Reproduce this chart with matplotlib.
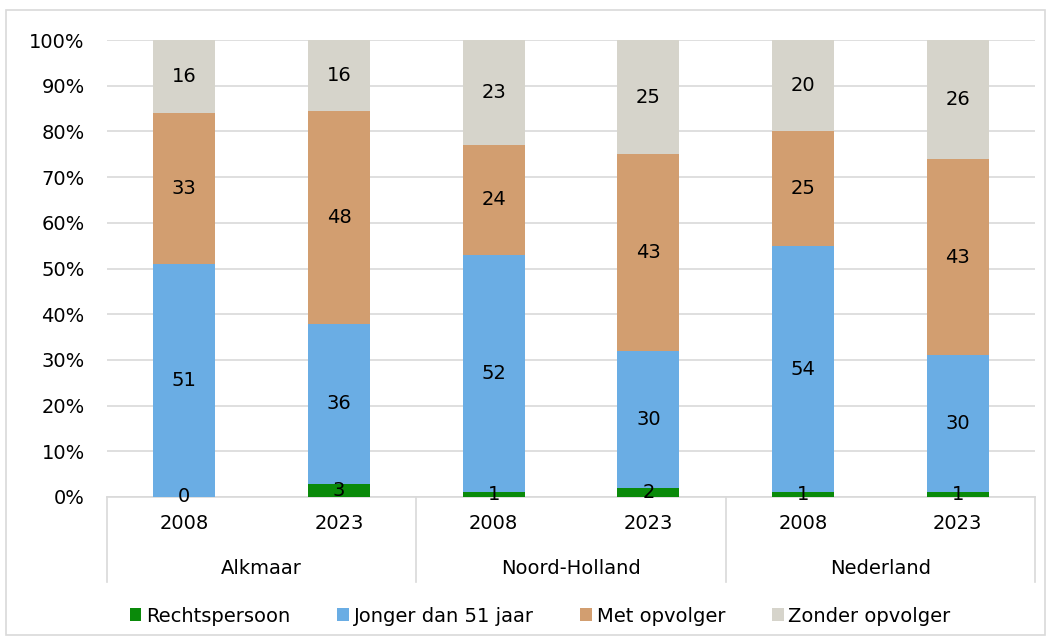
import matplotlib.pyplot as plt
import matplotlib.transforms as mtransforms
from matplotlib.patches import Rectangle
import numpy as np

# data
groups = ["Alkmaar", "Noord-Holland", "Nederland"]
years = ["2008", "2023", "2008", "2023", "2008", "2023"]
series = ["Rechtspersoon", "Jonger dan 51 jaar", "Met opvolger", "Zonder opvolger"]
rechtspersoon = [0, 3, 1, 2, 1, 1]
jonger = [51, 36, 52, 30, 54, 30]
met_opvolger = [33, 48, 24, 43, 25, 43]
zonder_opvolger = [16, 16, 23, 25, 20, 26]
colors = ["#0A8A0A", "#6AADE4", "#D29E70", "#D6D4CB"]

plt.rcParams["font.family"] = ["DejaVu Sans"]
fs = 14

fig = plt.figure(figsize=(10.53, 6.44), dpi=100)
ax = fig.add_axes([107 / 1053, 1 - 497 / 644, 928 / 1053, 457 / 644])

vals = np.array([rechtspersoon, jonger, met_opvolger, zonder_opvolger], dtype=float)
shares = vals / vals.sum(axis=0) * 100
x = np.arange(len(years))
bottom = np.zeros(len(years))
for i, name in enumerate(series):
    ax.bar(x, shares[i], 0.4, bottom=bottom, color=colors[i], label=name, zorder=3)
    for j in range(len(years)):
        ax.text(x[j], bottom[j] + shares[i][j] / 2, f"{int(vals[i][j])}",
                ha="center", va="center", fontsize=fs, color="black", zorder=4)
    bottom += shares[i]

ax.set_xlim(-0.5, 5.5)
ax.set_ylim(0, 100)
ax.set_yticks(np.arange(0, 101, 10))
ax.set_yticklabels([f"{v}%" for v in range(0, 101, 10)], fontsize=fs)
ax.tick_params(axis="y", length=0, pad=16)
ax.yaxis.grid(True, color="#D9D9D9", linewidth=1.2, zorder=0)
for s in ["top", "right", "left"]:
    ax.spines[s].set_visible(False)
ax.spines["bottom"].set_color("#D9D9D9")
ax.spines["bottom"].set_linewidth(1.2)
ax.set_xticks(x)
ax.set_xticklabels(years, fontsize=fs)
ax.tick_params(axis="x", length=0, pad=12)

trans = mtransforms.blended_transform_factory(ax.transData, ax.transAxes)
for xs in [-0.5, 1.5, 3.5, 5.5]:
    ax.plot([xs, xs], [0, -85 / 457], transform=trans, color="#D9D9D9",
            linewidth=1.2, clip_on=False)
for k, g in enumerate(groups):
    ax.text(2 * k + 0.5, -71 / 457, g, transform=trans, ha="center", va="center",
            fontsize=fs)

fig.legend(loc="center", bbox_to_anchor=(0.513, 1 - 616 / 644), ncol=4, frameon=False,
           fontsize=fs, handlelength=0.6, handleheight=0.6, handletextpad=0.25,
           columnspacing=2.4)

fig.patches.append(Rectangle((6 / 1053, 1 - 635 / 644), 1039 / 1053, 625 / 644,
                             transform=fig.transFigure, fill=False,
                             edgecolor="#D9D9D9", linewidth=1.2))

fig.savefig("out.png", dpi=100)
